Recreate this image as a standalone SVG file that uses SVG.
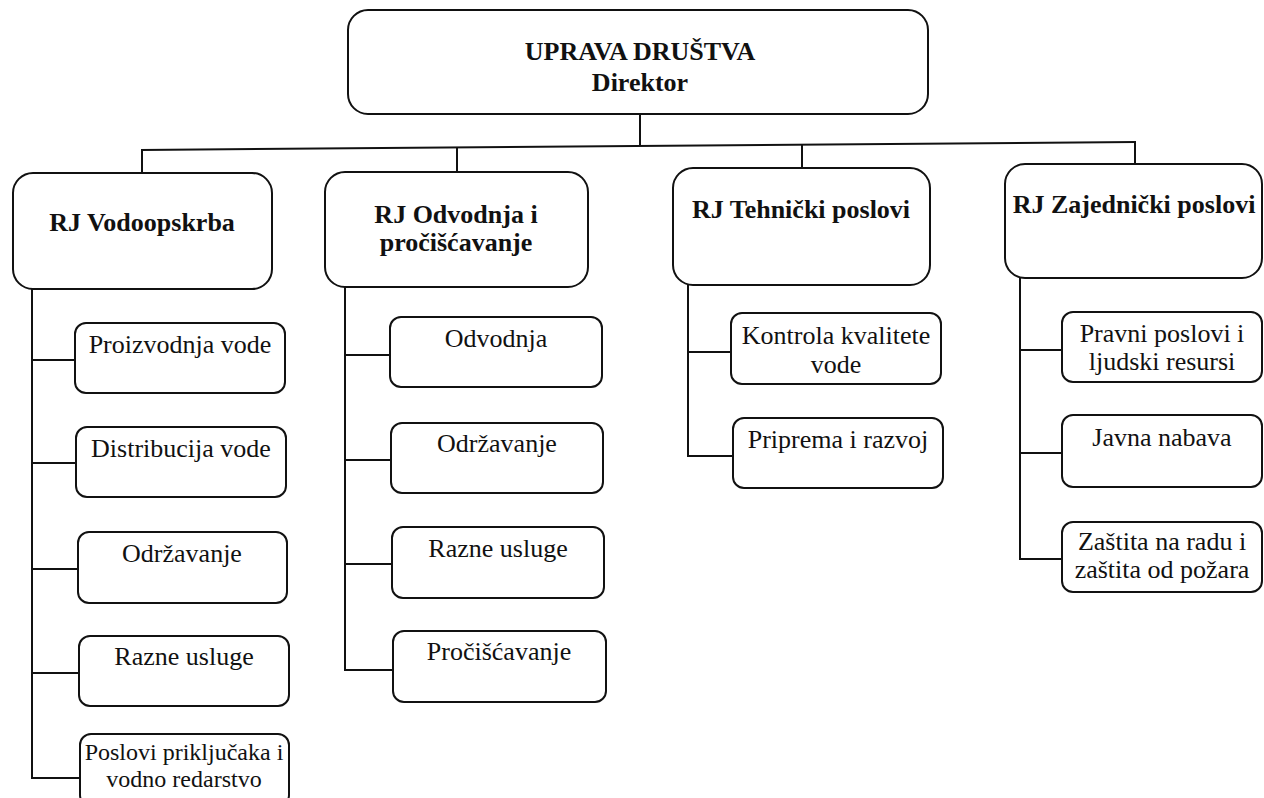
<svg xmlns="http://www.w3.org/2000/svg" width="1264" height="798" viewBox="0 0 1264 798">
<style>
.box{fill:#fff;stroke:#111;stroke-width:2}
.ln{fill:none;stroke:#111;stroke-width:2}
.h{font-family:"Liberation Serif","Times New Roman",serif;font-weight:bold;font-size:26px;fill:#111;text-anchor:middle}
.t{font-family:"Liberation Serif","Times New Roman",serif;font-size:26px;fill:#111;text-anchor:middle}
.s{font-size:24px}
</style>
<rect width="1264" height="798" fill="#fff"/>
<g id="connectors" class="ln">
<line x1="640" y1="114" x2="640" y2="146"/>
<line x1="141" y1="150" x2="1136" y2="142"/>
<line x1="142" y1="150" x2="142" y2="173"/>
<line x1="457" y1="148" x2="457" y2="172"/>
<line x1="802" y1="145" x2="802" y2="168"/>
<line x1="1135" y1="142" x2="1135" y2="164"/>
<polyline points="32,289 32,778 80,778"/>
<line x1="32" y1="360" x2="75" y2="360"/>
<line x1="32" y1="463" x2="76" y2="463"/>
<line x1="32" y1="569" x2="78" y2="569"/>
<line x1="32" y1="673" x2="79" y2="673"/>
<polyline points="345,287 345,670 393,670"/>
<line x1="345" y1="355" x2="390" y2="355"/>
<line x1="345" y1="460" x2="391" y2="460"/>
<line x1="345" y1="564" x2="392" y2="564"/>
<polyline points="688,285 688,456 733,456"/>
<line x1="688" y1="352" x2="731" y2="352"/>
<polyline points="1020,278 1020,559 1062,559"/>
<line x1="1020" y1="350" x2="1062" y2="350"/>
<line x1="1020" y1="453" x2="1062" y2="453"/>
</g>
<g id="uprava">
<rect class="box" x="348" y="10" width="580" height="104" rx="20"/>
<text class="h" x="640" y="60">UPRAVA DRUŠTVA</text>
<text class="h" x="640" y="91">Direktor</text>
</g>
<g id="rj-vodoopskrba">
<rect class="box" x="13" y="173" width="259" height="116" rx="20"/>
<text class="h" x="142" y="231">RJ Vodoopskrba</text>
</g>
<g id="rj-odvodnja">
<rect class="box" x="325" y="172" width="263" height="115" rx="20"/>
<text class="h" x="456" y="223">RJ Odvodnja i</text>
<text class="h" x="456" y="251">pročišćavanje</text>
</g>
<g id="rj-tehnicki">
<rect class="box" x="673" y="168" width="257" height="117" rx="20"/>
<text class="h" x="801" y="218">RJ Tehnički poslovi</text>
</g>
<g id="rj-zajednicki">
<rect class="box" x="1005" y="164" width="257" height="114" rx="20"/>
<text class="h" x="1134" y="213">RJ Zajednički poslovi</text>
</g>
<g id="proizvodnja">
<rect class="box" x="75" y="323" width="210" height="70" rx="11"/>
<text class="t" x="180" y="353">Proizvodnja vode</text>
</g>
<g id="distribucija">
<rect class="box" x="76" y="427" width="210" height="70" rx="11"/>
<text class="t" x="181" y="457">Distribucija vode</text>
</g>
<g id="odrzavanje1">
<rect class="box" x="78" y="532" width="209" height="71" rx="11"/>
<text class="t" x="182" y="562">Održavanje</text>
</g>
<g id="razne1">
<rect class="box" x="79" y="636" width="210" height="70" rx="11"/>
<text class="t" x="184" y="665">Razne usluge</text>
</g>
<g id="poslovi">
<rect class="box" x="80" y="734" width="209" height="72" rx="11"/>
<text class="t s" x="184" y="760">Poslovi priključaka i</text>
<text class="t s" x="184" y="787">vodno redarstvo</text>
</g>
<g id="odvodnja">
<rect class="box" x="390" y="317" width="212" height="70" rx="11"/>
<text class="t" x="496" y="347">Odvodnja</text>
</g>
<g id="odrzavanje2">
<rect class="box" x="391" y="423" width="212" height="70" rx="11"/>
<text class="t" x="497" y="452">Održavanje</text>
</g>
<g id="razne2">
<rect class="box" x="392" y="527" width="212" height="71" rx="11"/>
<text class="t" x="498" y="557">Razne usluge</text>
</g>
<g id="prociscavanje">
<rect class="box" x="393" y="631" width="213" height="71" rx="11"/>
<text class="t" x="499" y="660">Pročišćavanje</text>
</g>
<g id="kontrola">
<rect class="box" x="731" y="313" width="210" height="71" rx="11"/>
<text class="t" x="836" y="344">Kontrola kvalitete</text>
<text class="t" x="836" y="373">vode</text>
</g>
<g id="priprema">
<rect class="box" x="733" y="418" width="210" height="70" rx="11"/>
<text class="t" x="838" y="448">Priprema i razvoj</text>
</g>
<g id="pravni">
<rect class="box" x="1062" y="312" width="200" height="70" rx="11"/>
<text class="t" x="1162" y="342">Pravni poslovi i</text>
<text class="t" x="1162" y="370">ljudski resursi</text>
</g>
<g id="javna">
<rect class="box" x="1062" y="415" width="200" height="72" rx="11"/>
<text class="t" x="1162" y="446">Javna nabava</text>
</g>
<g id="zastita">
<rect class="box" x="1062" y="522" width="200" height="70" rx="11"/>
<text class="t" x="1162" y="550">Zaštita na radu i</text>
<text class="t" x="1162" y="578">zaštita od požara</text>
</g>
</svg>
